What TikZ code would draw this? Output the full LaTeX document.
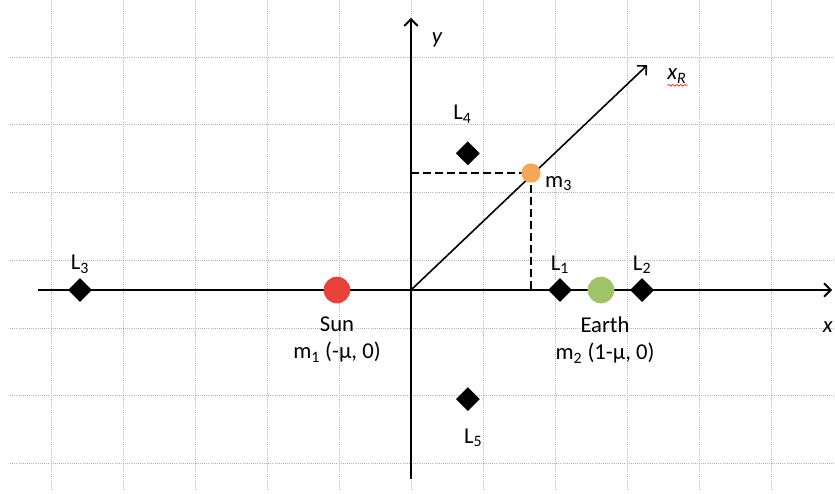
\documentclass[tikz,border=0pt]{standalone}
\usepackage{fontspec}
\setmainfont{Carlito}
\usetikzlibrary{positioning,arrows.meta,shapes.geometric,decorations.pathmorphing}
\definecolor{sol}{HTML}{E8433A}
\definecolor{tierra}{HTML}{A0C36A}
\definecolor{naranja}{HTML}{F4A65B}
\definecolor{rejilla}{HTML}{B4B4B4}
\newcommand{\lsub}[1]{\textsubscript{#1}}

\begin{document}
\begin{tikzpicture}[x=54pt, y=50.775pt, font=\fontsize{17}{20}\selectfont,
    eje/.style={line width=1.5pt, -{Straight Barb[length=5pt,width=10pt]}},
    punto/.style={diamond, fill=black, inner sep=0pt, minimum size=18pt},
    masa/.style={circle, inner sep=0pt, minimum size=#1},
    lbl/.style={inner sep=1pt}]
    \useasboundingbox (-5.708,-2.999) rectangle (5.889,4.284);
    % rejilla
    \foreach \x in {-5,...,5}
      \draw[rejilla, densely dotted, line width=0.6pt] (\x,4.284) -- (\x,-2.954);
    \foreach \y in {-3,...,3}
      \draw[rejilla, densely dotted, line width=0.6pt] (-5.569,\y+0.44) -- (5.889,\y+0.44);
    % ejes
    \coordinate (O) at (0,0);
    \coordinate (xizq) at (-5.18,0);
    \coordinate (xder) at (5.85,0);
    \coordinate (yabj) at (0,-2.79);
    \coordinate (yarr) at (0,4.02);
    \coordinate (xR) at (3.28,3.32);
    \draw[eje] (xizq) -- (xder);
    \draw[eje] (yabj) -- (yarr);
    \draw[eje, line width=1.2pt] (O) -- (xR);
    \node[lbl] (ty) at (0.361,3.693) {\itshape y};
    \node[lbl] (tx) at (5.79,-0.547) {\itshape x};
    \node[lbl] (tR) at (3.694,3.161) {\itshape x\lsub{R}};
    \draw[red, line width=0.5pt, decorate, decoration={snake, amplitude=0.7pt, segment length=3pt}]
      ([xshift=-7pt,yshift=-7pt]tR.center) -- ([xshift=8pt,yshift=-7pt]tR.center);
    % proyecciones de m3
    \coordinate (p3) at (1.667,1.728);
    \coordinate (p3y) at (0,1.728);
    \coordinate (p3x) at (1.667,0);
    \draw[line width=1.5pt, dash pattern=on 6pt off 3pt] (p3y) -- (p3) -- (p3x);
    \node[masa=14.5pt, fill=naranja] (m3) at (p3) {};
    \node[lbl, anchor=west] (tm3) at ([xshift=2pt,yshift=-8pt]m3.east) {m\lsub{3}};
    % masas
    \node[masa=20pt, fill=sol] (sun) at (-1.028,0) {};
    \node[masa=20pt, fill=tierra] (earth) at (2.639,0) {};
    \node[lbl, below=9pt of sun, align=center] (tsun) {Sun\\m\lsub{1} (-μ, 0)};
    \node[lbl, below=9pt of earth, xshift=3pt, align=center] (tearth) {Earth\\m\lsub{2} (1-μ, 0)};
    % puntos de Lagrange
    \node[punto] (L1) at (2.07,0) {};
    \node[punto] (L2) at (3.21,0) {};
    \node[punto] (L3) at (-4.597,0) {};
    \node[punto] (L4) at (0.79,2.02) {};
    \node[punto] (L5) at (0.79,-1.61) {};
    \node[lbl, above=2pt of L1] (tL1) {L\lsub{1}};
    \node[lbl, above=2pt of L2] (tL2) {L\lsub{2}};
    \node[lbl, above=2pt of L3] (tL3) {L\lsub{3}};
    \node[lbl, above=12pt of L4, xshift=-4pt] (tL4) {L\lsub{4}};
    \node[lbl, below=12pt of L5, xshift=4pt] (tL5) {L\lsub{5}};
\end{tikzpicture}
\end{document}
